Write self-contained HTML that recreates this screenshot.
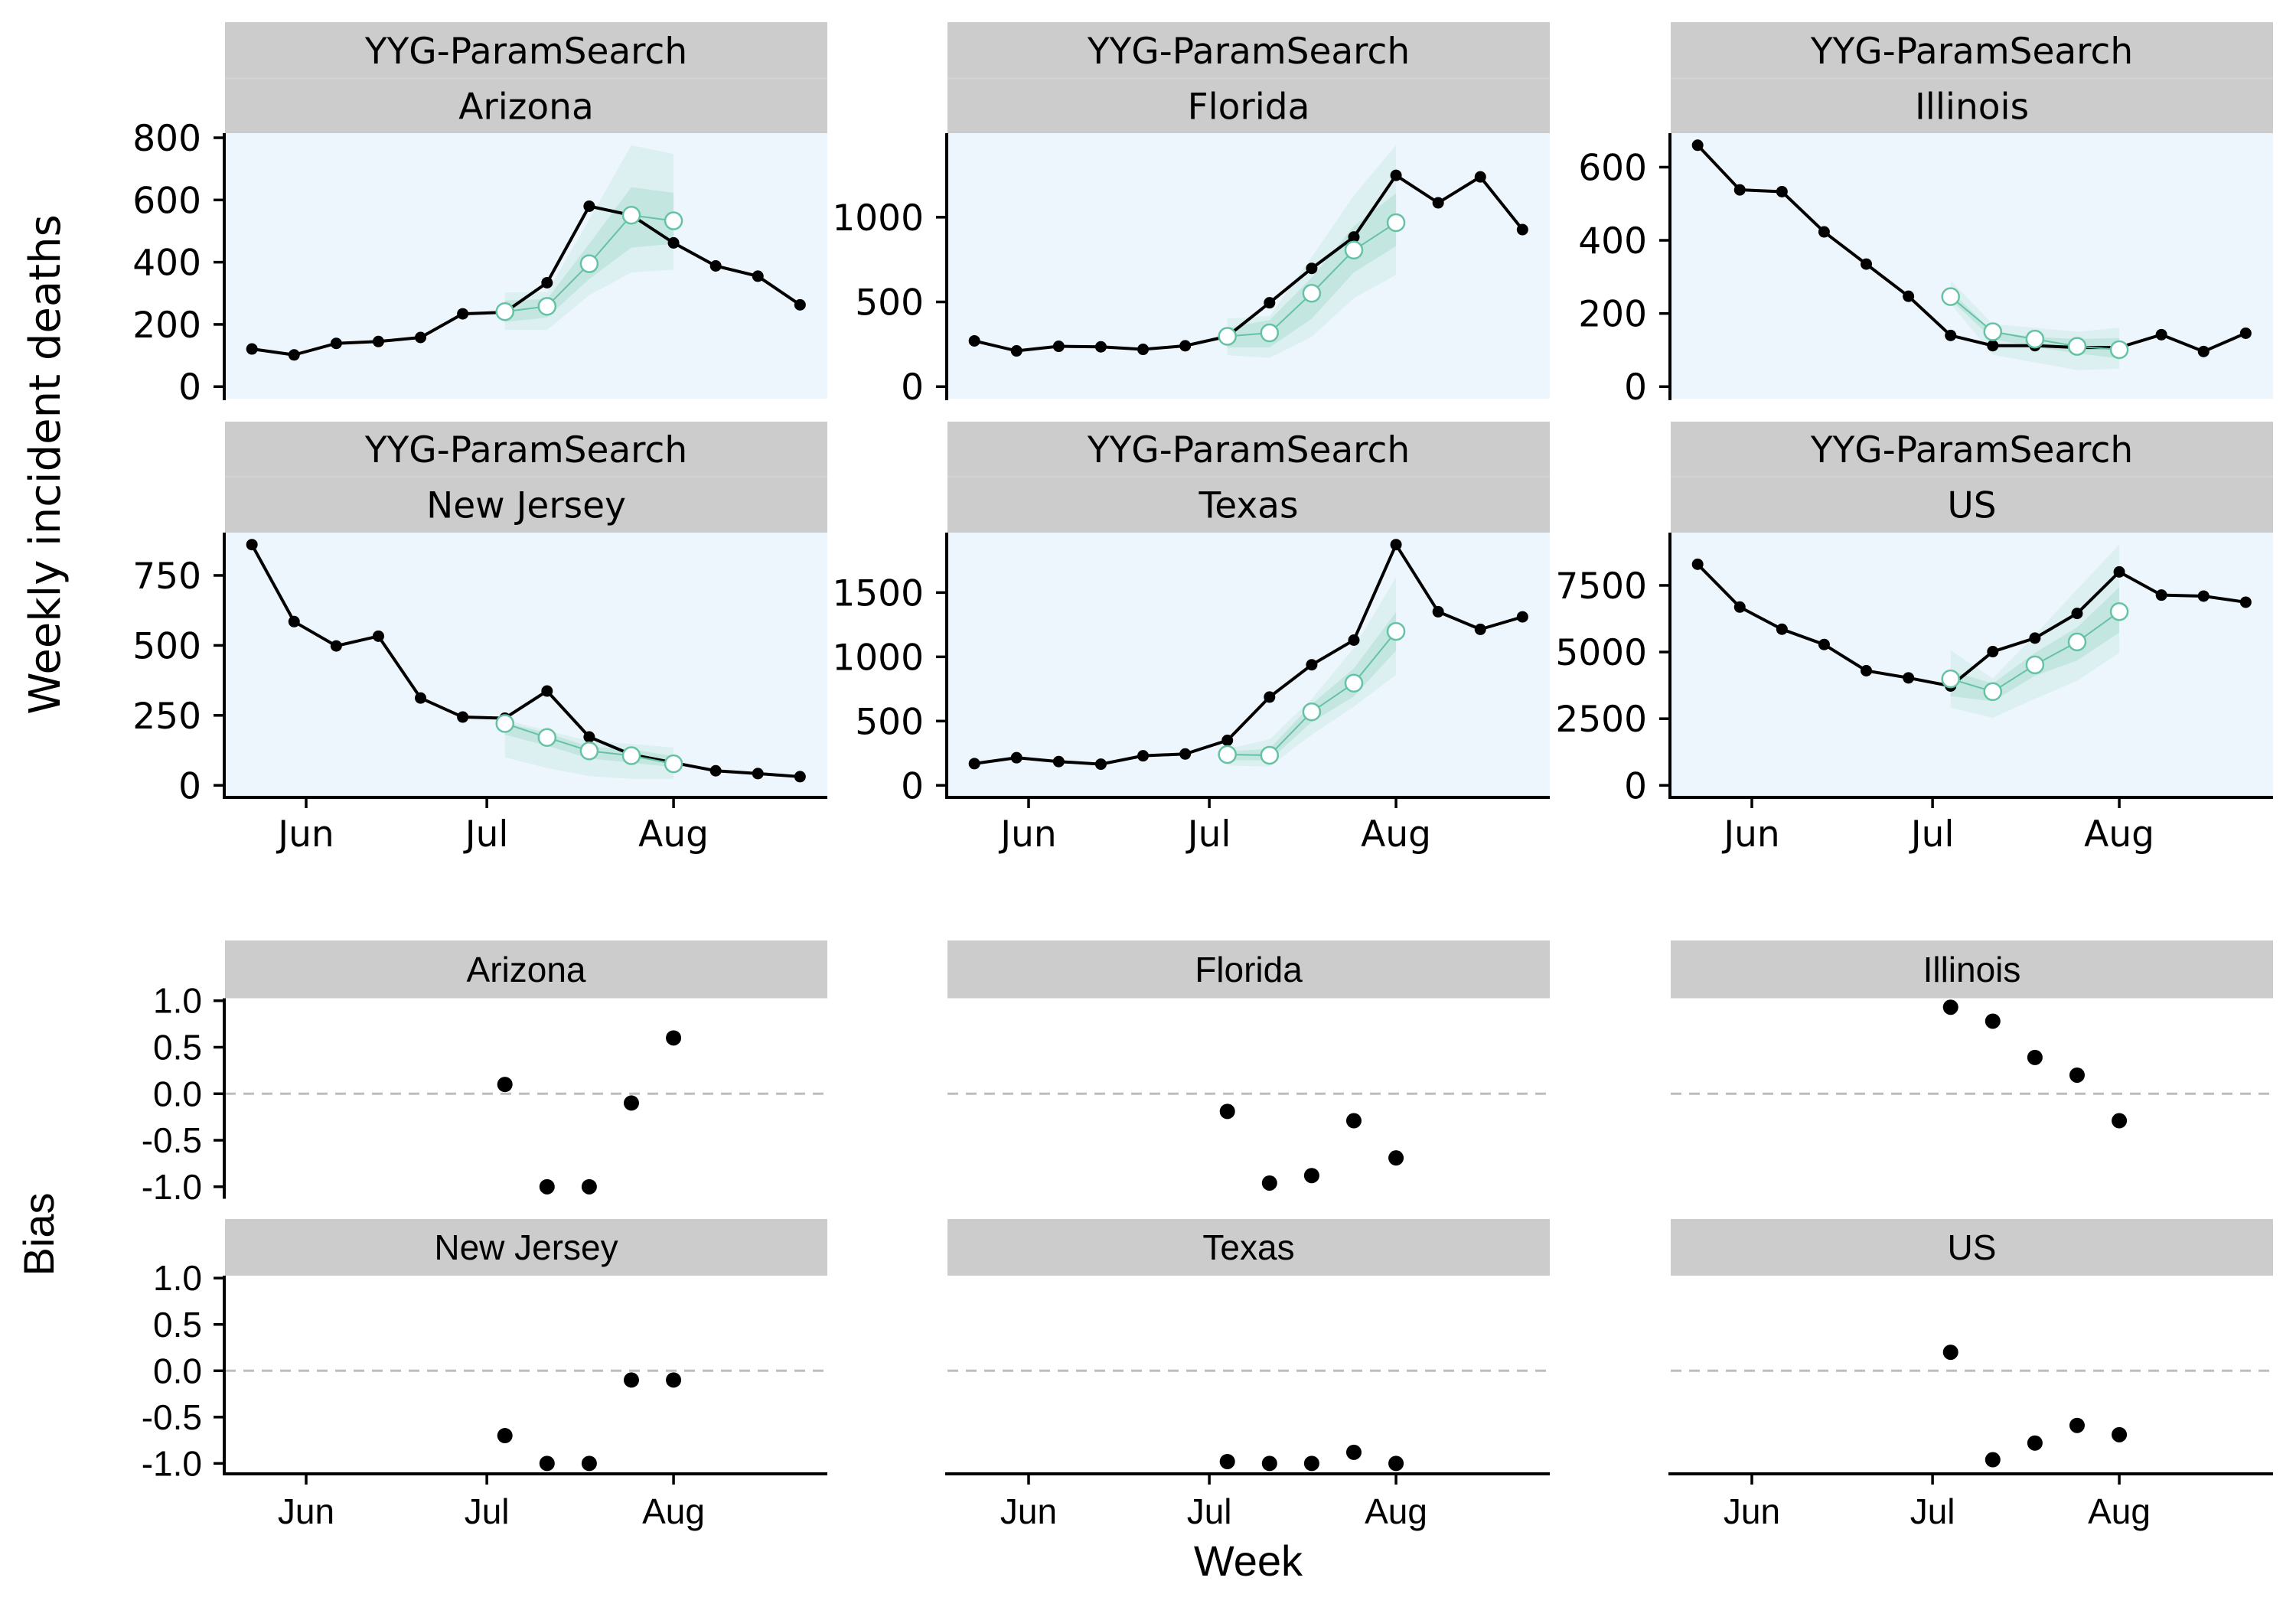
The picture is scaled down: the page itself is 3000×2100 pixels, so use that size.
<!DOCTYPE html>
<html><head><meta charset="utf-8"><style>
html,body{margin:0;padding:0;background:#fff;}
svg{display:block;}
.dj{font-family:"DejaVu Sans","Liberation Sans",sans-serif;}
.lb{font-family:"Liberation Sans",Arial,sans-serif;}
</style></head><body>
<svg id="chart" xmlns="http://www.w3.org/2000/svg" width="3000" height="2100" viewBox="0 0 3000 2100">
<rect width="3000" height="2100" fill="#fff"/>
<g id="root"></g>
</svg>
<script>
// ---- data ----
const states = ["Arizona","Florida","Illinois","New Jersey","Texas","US"];
const weekDays = [0,7,14,21,28,35,42,49,56,63,70,77,84,91]; // days since May 23
const fcIdx = [6,7,8,9,10];
const obsArizona = [121,102,139,145,158,234,239,334,580,551,462,388,355,263];
const obsFlorida = [270,211,238,235,220,241,297,495,698,883,1247,1085,1238,927];
const obsIllinois = [660,538,533,423,335,247,140,112,112,107,107,142,96,146];
const obsNewJersey = [860,585,498,533,312,244,240,337,173,110,81,52,42,31];
const obsTexas = [169,215,185,165,230,244,350,687,938,1130,1873,1351,1214,1311];
const obsUS = [8292,6687,5856,5283,4299,4031,3726,5015,5522,6448,8005,7136,7098,6869];
const fcArizona = [241,258,395,551,533];
const fcFlorida = [297,317,551,806,968];
const fcIllinois = [246,150,130,110,101];
const fcNewJersey = [221,171,123,106,77];
const fcTexas = [240,234,572,795,1198];
const fcUS = [3993,3515,4519,5378,6515];
const outLoArizona = [182,182,294,367,376], outHiArizona = [303,303,537,776,748];
const inLoArizona = [208,222,346,447,459], inHiArizona = [277,281,459,641,623];
const outLoFlorida = [185,170,294,522,659], outHiFlorida = [401,416,765,1129,1425];
const inLoFlorida = [231,231,401,674,829], inHiFlorida = [347,393,643,947,1141];
const outLoIllinois = [227,87,66,45,49], outHiIllinois = [290,171,161,150,161];
const inLoIllinois = [238,130,108,91,77], inHiIllinois = [262,150,136,130,133];
const outLoNewJersey = [100,62,33,23,23], outHiNewJersey = [235,196,158,148,135];
const inLoNewJersey = [181,142,96,81,65], inHiNewJersey = [225,187,138,129,104];
const outLoTexas = [155,145,393,612,860], outHiTexas = [284,358,672,1069,1621];
const inLoTexas = [195,195,493,691,1049], inHiTexas = [264,284,632,910,1347];
const outLoUS = [2914,2532,3248,3917,4968], outHiUS = [5063,4012,5636,7356,9028];
const inLoUS = [3344,3153,4108,4681,5732], inHiUS = [4299,3821,4968,5923,7432];
const biasArizona = [0.1,-1,-1,-0.1,0.6];
const biasFlorida = [-0.19,-0.96,-0.88,-0.29,-0.69];
const biasIllinois = [0.93,0.78,0.39,0.2,-0.29];
const biasNewJersey = [-0.7,-1,-1,-0.1,-0.1];
const biasTexas = [-0.98,-1,-1,-0.88,-1];
const biasUS = [0.2,-0.96,-0.78,-0.59,-0.69];
const yTicksArizona = [0,200,400,600,800];
const yTicksFlorida = [0,500,1000];
const yTicksIllinois = [0,200,400,600];
const yTicksNewJersey = [0,250,500,750];
const yTicksTexas = [0,500,1000,1500];
const yTicksUS = [0,2500,5000,7500];
const biasTicks = [-1.0,-0.5,0.0,0.5,1.0];
const biasTickLabels = ["-1.0","-0.5","0.0","0.5","1.0"];
const monthLabels = ["Jun","Jul","Aug"];
const monthDays = [9,39,70];

const obs = {"Arizona":obsArizona,"Florida":obsFlorida,"Illinois":obsIllinois,"New Jersey":obsNewJersey,"Texas":obsTexas,"US":obsUS};
const fc = {"Arizona":fcArizona,"Florida":fcFlorida,"Illinois":fcIllinois,"New Jersey":fcNewJersey,"Texas":fcTexas,"US":fcUS};
const rib = {
 "Arizona":[outLoArizona,outHiArizona,inLoArizona,inHiArizona],
 "Florida":[outLoFlorida,outHiFlorida,inLoFlorida,inHiFlorida],
 "Illinois":[outLoIllinois,outHiIllinois,inLoIllinois,inHiIllinois],
 "New Jersey":[outLoNewJersey,outHiNewJersey,inLoNewJersey,inHiNewJersey],
 "Texas":[outLoTexas,outHiTexas,inLoTexas,inHiTexas],
 "US":[outLoUS,outHiUS,inLoUS,inHiUS]};
const bias = {"Arizona":biasArizona,"Florida":biasFlorida,"Illinois":biasIllinois,"New Jersey":biasNewJersey,"Texas":biasTexas,"US":biasUS};
const yt = {"Arizona":yTicksArizona,"Florida":yTicksFlorida,"Illinois":yTicksIllinois,"New Jersey":yTicksNewJersey,"Texas":yTicksTexas,"US":yTicksUS};

// ---- layout ----
const NS="http://www.w3.org/2000/svg";
const root=document.getElementById('root');
function mk(tag,attrs,parent,name,inter){
  const e=document.createElementNS(NS,tag);
  for(const k in attrs) e.setAttribute(k,attrs[k]);
  if(name){
    
    
  }
  (parent||root).appendChild(e);return e;
}
const colL=[294,1238,2183], PW=787;
const rowTop=[{s:29,sp:102.5,p:174,b:521},{s:551,sp:623,p:696,b:1042}];
// y-domains derived from data (including 0) with 5% expansion
function domain(st){
  const r=rib[st];
  const all=obs[st].concat(fc[st],r[0],r[1],r[2],r[3]);
  const lo=Math.min(0,Math.min.apply(null,all)), hi=Math.max.apply(null,all);
  const pad=0.05*(hi-lo);
  return [lo-pad,hi+pad];
}
function xS(col,d){return colL[col]+106+(d-9)*7.87;}
const TEAL="#66c2a5";

states.forEach((st,i)=>{
  const col=i%3,row=Math.floor(i/3),R=rowTop[row],L=colL[col];
  const g=mk('g',{},root,'panel-'+st.toLowerCase().replace(' ','-'),false);
  mk('rect',{x:L,y:R.s,width:PW,height:R.p-R.s,fill:'#cccccc'},g,'strip',false);
  mk('line',{x1:L,x2:L+PW,y1:R.sp,y2:R.sp,stroke:'#d6d6d6','stroke-width':1.5},g,'strip-divider',false);
  const t1=mk('text',{x:L+PW/2,y:(R.s+R.sp)/2+17,'text-anchor':'middle','font-size':47,class:'dj'},g,'strip-model-label',false);t1.textContent='YYG-ParamSearch';
  const t2=mk('text',{x:L+PW/2,y:(R.sp+R.p)/2+17,'text-anchor':'middle','font-size':47,class:'dj'},g,'strip-state-label',false);t2.textContent=st;
  mk('rect',{x:L,y:R.p,width:PW,height:R.b-R.p,fill:'#eef6fd'},g,'panel-background',false);
  const [lo,hi]=domain(st);
  const yS=v=>R.b-(v-lo)/(hi-lo)*(R.b-R.p);
  const r=rib[st];
  function band(a,b,op,nm){
    let p='';
    fcIdx.forEach((k,j)=>{p+=(j?'L':'M')+xS(col,weekDays[k])+','+yS(b[j]);});
    for(let j=fcIdx.length-1;j>=0;j--){p+='L'+xS(col,weekDays[fcIdx[j]])+','+yS(a[j]);}
    mk('path',{d:p+'Z',fill:TEAL,'fill-opacity':op},g,nm,false);
  }
  band(r[0],r[1],0.13,'outer-interval');
  band(r[2],r[3],0.2,'inner-interval');
  mk('polyline',{points:obs[st].map((v,k)=>xS(col,weekDays[k])+','+yS(v)).join(' '),fill:'none',stroke:'#000','stroke-width':4},g,'observed-line',false);
  obs[st].forEach((v,k)=>{mk('circle',{cx:xS(col,weekDays[k]),cy:yS(v),r:7.5,fill:'#000'},g,'observed-point',false);});
  mk('polyline',{points:fc[st].map((v,j)=>xS(col,weekDays[fcIdx[j]])+','+yS(v)).join(' '),fill:'none',stroke:TEAL,'stroke-width':2},g,'forecast-line',false);
  fc[st].forEach((v,j)=>{mk('circle',{cx:xS(col,weekDays[fcIdx[j]]),cy:yS(v),r:11,fill:'#fff',stroke:TEAL,'stroke-width':2.5},g,'forecast-point',false);});
  mk('line',{x1:L-1,x2:L-1,y1:R.p,y2:R.b+2,stroke:'#000','stroke-width':4},g,'y-axis-line',false);
  yt[st].forEach(v=>{
    const y=yS(v);
    mk('line',{x1:L-15,x2:L-1,y1:y,y2:y,stroke:'#000','stroke-width':3.5},g,'y-tick',false);
    const t=mk('text',{x:L-31,y:y+17,'text-anchor':'end','font-size':47,class:'dj'},g,'y-tick-label',false);t.textContent=String(v);
  });
  if(row===1){
    mk('line',{x1:L-3,x2:L+PW,y1:R.b,y2:R.b,stroke:'#000','stroke-width':4},g,'x-axis-line',false);
    monthDays.forEach((d,m)=>{
      const x=xS(col,d);
      mk('line',{x1:x,x2:x,y1:R.b,y2:R.b+14,stroke:'#000','stroke-width':3.5},g,'x-tick',false);
      const t=mk('text',{x:x,y:1106,'text-anchor':'middle','font-size':47,class:'dj'},g,'x-tick-label',false);t.textContent=monthLabels[m];
    });
  }
});
const yt1=mk('text',{x:0,y:0,transform:'translate(78,607) rotate(-90)','text-anchor':'middle','font-size':56,class:'dj'},root,'y-axis-title',false);yt1.textContent='Weekly incident deaths';

// ---- bias ----
const bRows=[{s:1229,p:1304.5,b:1564.5},{s:1593,p:1667,b:1926}];
states.forEach((st,i)=>{
  const col=i%3,row=Math.floor(i/3),R=bRows[row],L=colL[col];
  const g=mk('g',{},root,'bias-panel-'+st.toLowerCase().replace(' ','-'),false);
  mk('rect',{x:L,y:R.s,width:PW,height:R.p-R.s,fill:'#cccccc'},g,'bias-strip',false);
  const t=mk('text',{x:L+PW/2,y:(R.s+R.p)/2+16,'text-anchor':'middle','font-size':46,class:'lb'},g,'bias-strip-label',false);t.textContent=st;
  const lo=-1.1125,hi=1.0265;
  const yS=v=>R.b-(v-lo)/(hi-lo)*(R.b-R.p);
  mk('line',{x1:L,x2:L+PW,y1:yS(0),y2:yS(0),stroke:'#bdbdbd','stroke-width':3,'stroke-dasharray':'14 10'},g,'zero-reference-line',false);
  bias[st].forEach((v,j)=>{mk('circle',{cx:xS(col,weekDays[fcIdx[j]]),cy:yS(v),r:10,fill:'#000'},g,'bias-point',false);});
  if(col===0){
    mk('line',{x1:L-1,x2:L-1,y1:R.p,y2:R.b+2,stroke:'#000','stroke-width':4},g,'bias-y-axis-line',false);
    biasTicks.forEach((v,k)=>{
      const y=yS(v);
      mk('line',{x1:L-15,x2:L-1,y1:y,y2:y,stroke:'#000','stroke-width':3.5},g,'bias-y-tick',false);
      const tt=mk('text',{x:L-30,y:y+16,'text-anchor':'end','font-size':46,class:'lb'},g,'bias-y-tick-label',false);tt.textContent=biasTickLabels[k];
    });
  }
  if(row===1){
    mk('line',{x1:L-3,x2:L+PW,y1:R.b,y2:R.b,stroke:'#000','stroke-width':4},g,'bias-x-axis-line',false);
    monthDays.forEach((d,m)=>{
      const x=xS(col,d);
      mk('line',{x1:x,x2:x,y1:R.b,y2:R.b+14,stroke:'#000','stroke-width':3.5},g,'bias-x-tick',false);
      const tt=mk('text',{x:x,y:1991,'text-anchor':'middle','font-size':46,class:'lb'},g,'bias-x-tick-label',false);tt.textContent=monthLabels[m];
    });
  }
});
const bt=mk('text',{x:0,y:0,transform:'translate(70,1613) rotate(-90)','text-anchor':'middle','font-size':56,class:'lb'},root,'bias-axis-title',false);bt.textContent='Bias';
const wt=mk('text',{x:1631,y:2059,'text-anchor':'middle','font-size':56,class:'lb'},root,'x-axis-title',false);wt.textContent='Week';
</script>
</body></html>
